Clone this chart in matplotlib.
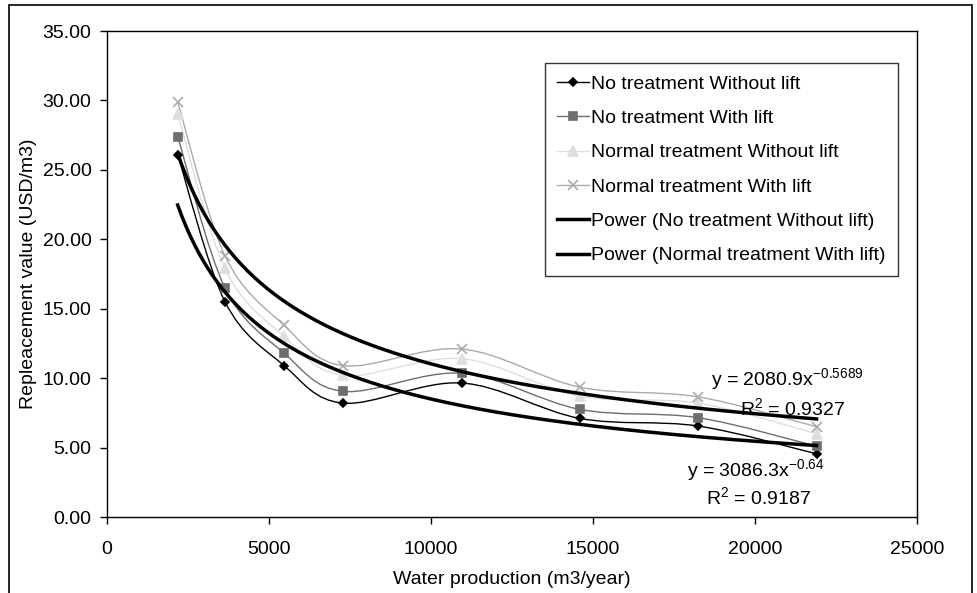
import numpy as np
import matplotlib
matplotlib.use("Agg")
import matplotlib.pyplot as plt
from matplotlib.path import Path
from matplotlib.patches import PathPatch, Rectangle
from matplotlib.lines import Line2D

plt.rcParams['font.family'] = ['Liberation Sans', 'DejaVu Sans']
plt.rcParams['mathtext.fontset'] = 'custom'
plt.rcParams['mathtext.rm'] = 'Liberation Sans'
plt.rcParams['mathtext.it'] = 'Liberation Sans'

# water production (m3/year)
production = [2190, 3650, 5475, 7300, 10950, 14600, 18250, 21900]

# replacement value (USD/m3)
no_treat_no_lift = [26.1, 15.5, 10.9, 8.2, 9.65, 7.1, 6.55, 4.55]
no_treat_lift = [27.4, 16.5, 11.8, 9.05, 10.35, 7.75, 7.15, 5.1]
normal_no_lift = [29.0, 17.9, 13.0, 10.2, 11.4, 8.7, 8.2, 6.0]
normal_lift = [29.9, 18.8, 13.8, 10.9, 12.1, 9.35, 8.65, 6.5]

series_names = ["No treatment Without lift", "No treatment With lift",
                "Normal treatment Without lift", "Normal treatment With lift"]

# power trendlines as printed on the chart
fit_no_treat = (3086.3, -0.64, 0.9187)
fit_normal = (2080.9, -0.5689, 0.9327)


def smooth_path(xs, ys):
    # excel style smoothed line (catmull-rom as cubic bezier)
    p = np.column_stack([xs, ys]).astype(float)
    n = len(p)
    verts = [p[0]]
    codes = [Path.MOVETO]
    for i in range(n - 1):
        a = p[max(i - 1, 0)]
        b = p[i]
        c = p[i + 1]
        d = p[min(i + 2, n - 1)]
        verts += [b + (c - a) / 6.0, c - (d - b) / 6.0, c]
        codes += [Path.CURVE4] * 3
    return Path(verts, codes)


fig = plt.figure(figsize=(9.77, 5.93), dpi=100)
ax = fig.add_axes([106.7 / 977, 1 - 517 / 593, (917 - 106.7) / 977, (517 - 31) / 593])

styles = [
    dict(color='black', marker='D', ms=4.5, lw=1.0),
    dict(color='#6e6e6e', marker='s', ms=6, lw=1.0),
    dict(color='#dedede', marker='^', ms=6.5, lw=1.0),
    dict(color='#aaaaaa', marker='x', ms=7, lw=1.0),
]
data = [no_treat_no_lift, no_treat_lift, normal_no_lift, normal_lift]

handles = []
for vals, st, name in zip(data, styles, series_names):
    ax.add_patch(PathPatch(smooth_path(production, vals), fill=False,
                           edgecolor=st['color'], lw=st['lw'], zorder=2))
    ax.plot(production, vals, ls='none', marker=st['marker'], ms=st['ms'],
            color=st['color'], mew=1.2, zorder=3)
    handles.append(Line2D([], [], color=st['color'], lw=st['lw'],
                          marker=st['marker'], ms=st['ms'], mew=1.2, label=name))

xfit = np.linspace(production[0], production[-1], 300)
for (a, b, r2), name in zip([fit_no_treat, fit_normal],
                            ["Power (No treatment Without lift)", "Power (Normal treatment With lift)"]):
    ax.plot(xfit, a * xfit ** b, color='black', lw=2.5, zorder=4)
    handles.append(Line2D([], [], color='black', lw=2.5, label=name))

fs = 14
ax.text(787, 9.95, "y = %.1fx$^{%s}$" % (fit_normal[0], fit_normal[1]),
        ha='center', va='center', fontsize=fs)
ax.text(792, 7.85, "R$^{2}$ = %.4f" % fit_normal[2], ha='center', va='center', fontsize=fs)
ax.text(756, 3.35, "y = %.1fx$^{%s}$" % (fit_no_treat[0], fit_no_treat[1]),
        ha='center', va='center', fontsize=fs)
ax.text(758, 1.4, "R$^{2}$ = %.4f" % fit_no_treat[2], ha='center', va='center', fontsize=fs)

# the label x positions above are pixel guesses, convert to data
for t in ax.texts:
    px, v = t.get_position()
    t.set_position(((px - 106.7) / 0.0324, v))

ax.set_xlim(0, 25000)
ax.set_ylim(0, 35)
ax.set_xticks(range(0, 25001, 5000))
ax.set_yticks(np.arange(0, 35.01, 5))
ax.yaxis.set_major_formatter(matplotlib.ticker.FormatStrFormatter('%.2f'))
ax.tick_params(direction='out', length=5, width=1, labelsize=fs)
ax.tick_params(axis='x', pad=12)
ax.tick_params(axis='y', pad=6)
for s in ax.spines.values():
    s.set_linewidth(1.0)

ax.set_xlabel("Water production (m3/year)", fontsize=fs, labelpad=10)
ax.set_ylabel("Repleacement value (USD/m3)", fontsize=fs, labelpad=4)

leg = fig.legend(handles=handles, loc='upper right',
                 bbox_to_anchor=(898 / 977, 1 - 63 / 593), fontsize=fs,
                 frameon=True, fancybox=False, edgecolor='black',
                 handlelength=1.6, handletextpad=0.15, labelspacing=0.86,
                 borderpad=0.62, borderaxespad=0)
leg.get_frame().set_linewidth(1.0)

# outer chart border
fig.patches.append(Rectangle((9 / 977, -0.1), 963 / 977, 1.1 - 4.7 / 593,
                             transform=fig.transFigure, fill=False,
                             edgecolor='black', lw=1.2))

fig.savefig("out.png", dpi=100)
